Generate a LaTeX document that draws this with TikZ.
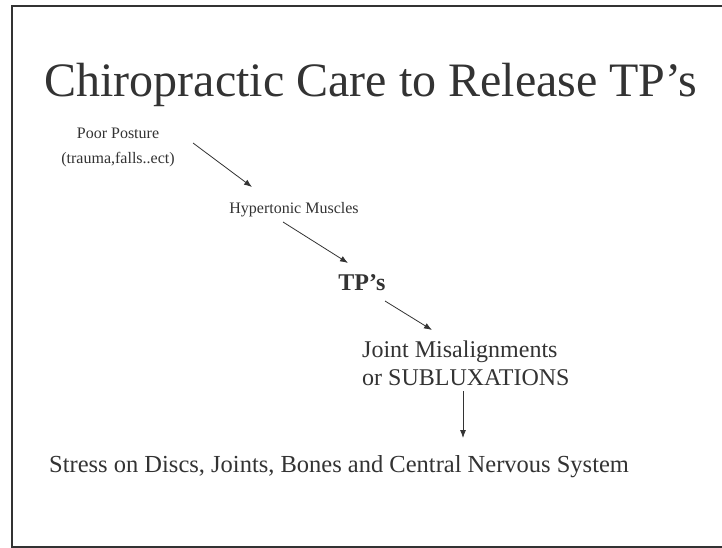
\documentclass[tikz,border=0pt]{standalone}
\usepackage{fontspec}
\setmainfont{Liberation Serif}
\usetikzlibrary{arrows.meta,calc}
\definecolor{ink}{HTML}{333333}
\begin{document}
\begin{tikzpicture}[x=1pt,y=-1pt,
  txt/.style={inner sep=0pt,text=ink},
  arr/.style={draw=ink,line width=0.8pt,-{Latex[length=8pt,width=6pt]}}]
\useasboundingbox (0,0) rectangle (722,548);
\fill[white] (0,0) rectangle (722,548);
\draw[ink,line width=2pt] (730,6) -- (12,6) -- (12,547) -- (730,547);
\node[txt,anchor=base,font=\fontsize{48}{54}\selectfont] (title) at (371,97) {Chiropractic Care to Release TP’s};
\node[txt,anchor=base,align=center,font=\fontsize{16}{25}\selectfont] (poor) at (118,164) {Poor Posture\\(trauma,falls..ect)};
\node[txt,anchor=base,font=\fontsize{16}{19}\selectfont] (hyper) at (294,213) {Hypertonic Muscles};
\node[txt,anchor=base,font=\fontsize{24}{28}\bfseries] (tps) at (362,290) {TP’s};
\node[txt,anchor=base west,align=left,font=\fontsize{24}{28}\selectfont] (joint) at (362,385) {Joint Misalignments\\or SUBLUXATIONS};
\node[txt,anchor=base west,font=\fontsize{24.5}{28}\selectfont] (stress) at (49,472) {Stress on Discs, Joints, Bones and Central Nervous System};
\draw[arr] ($(poor.base)+(75,-21)$) -- ($(hyper.base)+(-42,-26)$);
\draw[arr] ($(hyper.base)+(-11,9)$) -- ($(tps.base)+(-14,-27)$);
\draw[arr] ($(tps.base)+(23,11)$) -- ($(joint.base west)+(70,-55)$);
\draw[arr] ($(joint.base west)+(101,6)$) -- ($(stress.base west)+(414,-34)$);
\end{tikzpicture}
\end{document}
